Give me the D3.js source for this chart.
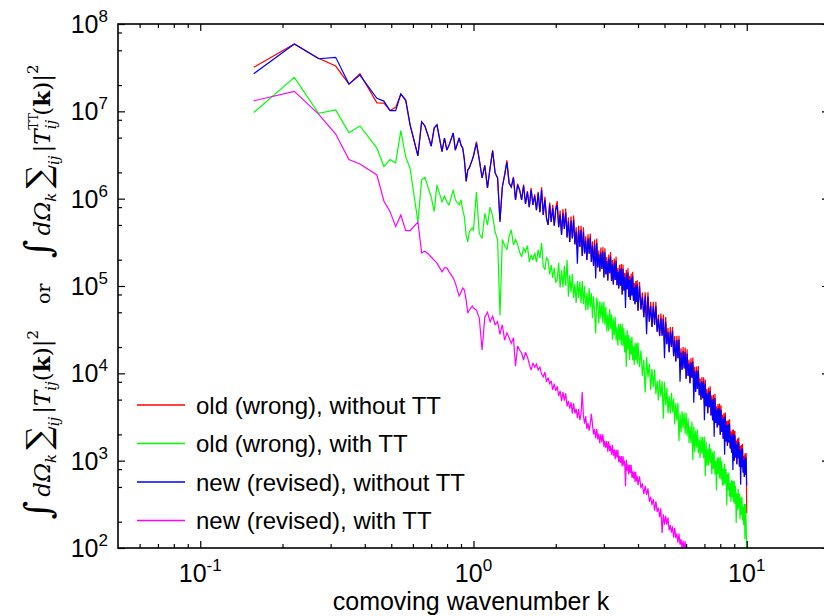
<!DOCTYPE html>
<html><head><meta charset="utf-8">
<script src="https://cdn.jsdelivr.net/npm/d3@7"></script>
<style>body{margin:0;background:#fff}svg{display:block}</style>
</head><body>
<svg id="chart" width="824" height="616"></svg>
<script>
// ---- data ----
const kLow = [0.157,0.221,0.271,0.313,0.350,0.384,0.443,0.470,0.495,0.519,0.542,0.565,0.586,0.626,0.646,0.664,0.683,0.700,0.718,0.735,0.767,0.783,0.799,0.814,0.843,0.858,0.886,0.900,0.913,0.926,0.940,0.953,0.965,0.990];
const kMid = [1,1.025,1.05,1.075,1.1,1.125,1.15,1.175,1.2,1.225,1.25,1.275,1.3,1.325,1.35,1.375,1.4,1.425,1.45,1.475,1.5,1.525,1.55,1.575,1.6,1.625,1.65,1.675,1.7,1.725,1.75,1.775,1.8,1.825,1.85,1.875,1.9,1.925,1.95,1.975,2];
const kUpper = [2.025,2.05,2.075,2.1,2.125,2.15,2.175,2.2,2.225,2.25,2.275,2.3,2.325,2.35,2.375,2.4,2.425,2.45,2.475,2.5,
 2.525,2.55,2.575,2.6,2.625,2.65,2.675,2.7,2.725,2.75,2.775,2.8,2.825,2.85,2.875,2.9,2.925,2.95,2.975,3,
 3.025,3.05,3.075,3.1,3.125,3.15,3.175,3.2,3.225,3.25,3.275,3.3,3.325,3.35,3.375,3.4,3.425,3.45,3.475,3.5,
 3.525,3.55,3.575,3.6,3.625,3.65,3.675,3.7,3.725,3.75,3.775,3.8,3.825,3.85,3.875,3.9,3.925,3.95,3.975,4];
const kTop = [4.05,4.1,4.15,4.2,4.25,4.3,4.35,4.4,4.45,4.5,4.55,4.6,4.65,4.7,4.75,4.8,4.85,4.9,4.95,5,
 5.05,5.1,5.15,5.2,5.25,5.3,5.35,5.4,5.45,5.5,5.55,5.6,5.65,5.7,5.75,5.8,5.85,5.9,5.95,6,
 6.05,6.1,6.15,6.2,6.25,6.3,6.35,6.4,6.45,6.5,6.55,6.6,6.65,6.7,6.75,6.8,6.85,6.9,6.95,7,
 7.05,7.1,7.15,7.2,7.25,7.3,7.35,7.4,7.45,7.5,7.55,7.6,7.65,7.7,7.75,7.8,7.85,7.9,7.95,8,
 8.05,8.1,8.15,8.2,8.25,8.3,8.35,8.4,8.45,8.5,8.55,8.6,8.65,8.7,8.75,8.8,8.85,8.9,8.95,9,
 9.05,9.1,9.15,9.2,9.25,9.3,9.35,9.4,9.45,9.5,9.55,9.6,9.65,9.7,9.75,9.8,9.85,9.9,9.95,10];

const oldWithoutTT = [
 3.2e7,5.9e7,4.05e7,3.3e7,2.05e7,2.7e7,1.25e7,1.24e7,1.02e7,1.11e7,1.58e7,1.32e7,7.0e6,3.1e6,7.6e6,6.8e6,5.2e6,4.0e6,6.45e6,7.0e6,3.45e6,4.95e6,3.6e6,4.1e6,5.65e6,3.6e6,4.95e6,4.1e6,3.8e6,2.8e6,1.6e6,2.13e6,2.25e6,2.8e6,
 3.1e6,4.5e6,2.8e6,1.73e6,2.4e6,1.33e6,2.25e6,3.6e6,1.97e6,1.73e6,5.6e5,1.36e6,1.87e6,2.75e6,1.51e6,1.36e6,1.78e6,9.7e5,1.48e6,1.26e6,9.7e5,1.45e6,8.7e5,1.22e6,8.0e5,1.32e6,8.5e5,1.12e6,7.4e5,1.2e6,7.0e5,1.35e6,6.5e5,1.05e6,6.0e5,5.0e5,9.0e5,5.4e5,8.5e5,4.9e5,7.9e5,
 9.4e5,4.7e5,7.3e5,3.85e5,7.6e5,4.5e5,7.7e5,3.6e5,6.1e5,3.2e5,
 6.25e5,3.5e5,6.4e5,3.0e5,4.7e5,2.7e5,4.9e5,2.8e5,4.9e5,2.2e5,
 4.7e5,2.36e5,3.7e5,1.98e5,3.9e5,2.34e5,4.0e5,1.88e5,3.25e5,1.7e5,
 3.4e5,1.68e5,3.5e5,1.63e5,2.55e5,1.47e5,2.75e5,1.57e5,2.8e5,1.25e5,
 2.7e5,1.36e5,2.15e5,1.16e5,2.3e5,1.4e5,2.45e5,1.14e5,1.98e5,1.04e5,
 2.07e5,1.17e5,2.18e5,1.02e5,1.62e5,9.35e4,1.75e5,1.01e5,1.79e5,8.0e4,
 1.76e5,8.9e4,1.41e5,8.15e4,1.52e5,9.2e4,1.6e5,7.5e4,1.31e5,6.9e4,
 1.39e5,7.8e4,1.46e5,6.8e4,1.08e5,6.2e4,1.14e5,6.6e4,1.16e5,5.2e4,
 1.11e5,5.4e4,8.4e4,4.4e4,8.5e4,4.27e4,8.5e4,3.9e4,6.6e4,3.4e4,
 6.6e4,3.6e4,6.6e4,3.0e4,4.7e4,2.67e4,4.85e4,2.7e4,4.7e4,2.26e4,
 4.4e4,2.15e4,3.3e4,1.75e4,3.4e4,2.0e4,3.4e4,1.57e4,2.67e4,1.37e4,
 2.7e4,1.49e4,2.7e4,1.22e4,1.94e4,1.1e4,2.0e4,1.14e4,1.98e4,8.7e3,
 1.88e4,9.3e3,1.44e4,7.7e3,1.5e4,8.9e3,1.52e4,7.0e3,1.19e4,6.1e3,
 1.2e4,6.6e3,1.21e4,5.6e3,8.7e3,5.0e3,9.1e3,5.2e3,9.0e3,4.37e3,
 8.5e3,4.2e3,6.6e3,3.5e3,6.9e3,4.1e3,7.1e3,3.3e3,5.6e3,2.9e3,
 5.7e3,2.84e3,5.85e3,2.7e3,4.2e3,2.4e3,4.45e3,2.55e3,4.5e3,1.98e3,
 4.3e3,2.13e3,3.35e3,1.78e3,3.5e3,1.77e3,3.57e3,1.66e3,2.85e3,1.48e3,
 2.9e3,1.62e3,2.97e3,1.38e3,2.16e3,1.23e3,2.26e3,1.18e3,2.27e3,1.0e3,
 2.18e3,1.09e3,1.7e3,9.1e2,1.79e3,1.07e3,1.84e3,8.6e2,1.48e3,8.05e2,
 1.51e3,8.4e2,1.56e3,7.3e2,1.14e3,6.5e2,1.21e3,6.9e2,1.22e3,2.5e2];

const oldWithTT = [
 9.7e6,2.45e7,9.5e6,1.04e7,5.7e6,6.8e6,3.8e6,2.33e6,2.8e6,2.58e6,6.0e6,3.0e6,2.23e6,5.4e5,1.64e6,1.76e6,1.33e6,1.05e6,7.1e5,1.43e6,9.2e5,1.07e6,9.2e5,8.5e5,1.26e6,9.7e5,8.5e5,9.7e5,7.4e5,6.2e5,3.8e5,3.2e5,4.15e5,4.6e5,
 4.4e5,1.19e6,4.0e5,3.5e5,6.8e5,5.0e5,8.0e5,6.3e5,4.15e5,3.4e5,4.6e4,3.4e5,2.9e5,2.6e5,3.7e5,4.4e5,2.95e5,3.4e5,3.0e5,2.45e5,2.15e5,2.7e5,2.45e5,2.9e5,1.88e5,2.26e5,1.98e5,2.4e5,1.88e5,2.6e5,2.1e5,3.1e5,1.69e5,1.53e5,2.1e5,1.98e5,1.37e5,1.74e5,1.24e5,1.61e5,1.11e5,
 1.16e5,1.85e5,9.6e4,1.51e5,9.7e4,1.7e5,1.01e5,2.0e5,7.55e4,1.33e5,
 8.5e4,1.37e5,7.3e4,1.05e5,6.4e4,1.14e5,7.3e4,1.12e5,6.4e4,1.14e5,
 6.2e4,1.0e5,5.25e4,8.3e4,5.3e4,9.4e4,5.7e4,8.3e4,4.27e4,7.6e4,
 4.9e4,2.86e4,7.35e4,6.1e4,3.76e4,6.7e4,4.27e4,6.5e4,3.74e4,6.6e4,
 3.6e4,5.8e4,3.02e4,4.75e4,3.05e4,5.4e4,3.23e4,4.75e4,2.42e4,4.27e4,
 2.74e4,4.43e4,2.37e4,3.4e4,2.09e4,3.7e4,2.38e4,3.67e4,2.11e4,3.73e4,
 2.05e4,3.31e4,1.73e4,2.74e4,1.19e4,3.13e4,1.88e4,2.77e4,1.42e4,2.52e4,
 1.63e4,2.63e4,1.41e4,2.04e4,1.25e4,2.22e4,1.43e4,2.21e4,1.27e4,2.25e4,
 1.18e4,1.83e4,9.3e3,1.43e4,6.05e3,1.54e4,9.0e3,1.29e4,6.45e3,1.12e4,
 7.0e3,1.11e4,5.8e3,8.2e3,4.9e3,8.5e3,5.4e3,8.15e3,3.03e3,8.0e3,
 4.3e3,6.8e3,3.5e3,5.45e3,3.45e3,6.0e3,3.56e3,5.15e3,2.6e3,4.54e3,
 2.88e3,4.6e3,1.68e3,3.45e3,2.1e3,3.67e3,2.34e3,3.56e3,2.02e3,3.54e3,
 1.92e3,3.08e3,1.59e3,2.48e3,1.59e3,2.81e3,1.01e3,2.47e3,1.25e3,2.2e3,
 1.41e3,2.28e3,1.22e3,1.75e3,1.07e3,1.89e3,1.21e3,1.87e3,1.07e3,1.88e3,
 6.65e2,1.66e3,8.7e2,1.37e3,8.8e2,1.56e3,9.4e2,1.38e3,7.0e2,1.25e3,
 8.0e2,1.3e3,6.95e2,1.0e3,4.56e2,1.09e3,7.0e2,1.09e3,6.25e2,1.11e3,
 6.1e2,9.85e2,5.15e2,8.2e2,5.2e2,9.2e2,5.45e2,8.0e2,3.07e2,7.1e2,
 4.55e2,7.3e2,3.87e2,5.53e2,3.38e2,5.97e2,3.81e2,5.83e2,3.33e2,5.89e2,
 3.2e2,5.15e2,1.94e2,4.22e2,2.7e2,4.75e2,2.85e2,4.19e2,2.13e2,3.76e2,
 2.4e2,3.86e2,2.06e2,2.96e2,1.82e2,3.21e2,1.27e2,3.18e2,1.82e2,7.3e1];

const newWithoutTT = [
 2.7e7,5.9e7,4.0e7,4.15e7,2.05e7,2.6e7,1.41e7,1.31e7,1.02e7,1.02e7,1.58e7,1.35e7,7.0e6,3.1e6,7.6e6,6.8e6,5.2e6,4.0e6,6.45e6,7.0e6,3.45e6,4.95e6,3.6e6,4.1e6,5.65e6,3.6e6,4.95e6,4.1e6,3.8e6,2.8e6,1.57e6,2.13e6,2.25e6,2.8e6,
 3.1e6,4.3e6,2.8e6,1.73e6,2.4e6,1.33e6,2.25e6,3.5e6,1.97e6,1.73e6,5.4e5,1.36e6,1.87e6,2.6e6,1.51e6,1.36e6,1.73e6,9.7e5,1.43e6,1.26e6,9.7e5,1.40e6,8.7e5,1.19e6,8.0e5,1.26e6,8.5e5,1.07e6,7.4e5,1.16e6,7.0e5,1.26e6,6.5e5,9.7e5,6.0e5,5.0e5,8.5e5,5.4e5,7.8e5,4.9e5,7.4e5,
 8.4e5,4.7e5,6.5e5,3.85e5,6.8e5,4.5e5,6.9e5,3.6e5,5.5e5,3.2e5,
 5.6e5,3.5e5,5.7e5,3.0e5,4.2e5,1.8e5,4.4e5,2.8e5,4.4e5,2.2e5,
 4.2e5,2.36e5,3.3e5,1.98e5,3.5e5,2.34e5,3.6e5,1.88e5,2.9e5,1.7e5,
 3.0e5,1.22e5,3.1e5,1.63e5,2.3e5,1.47e5,2.44e5,1.57e5,2.5e5,1.25e5,
 2.43e5,1.36e5,1.93e5,1.16e5,2.07e5,1.4e5,2.17e5,1.14e5,1.77e5,1.04e5,
 1.85e5,1.17e5,1.95e5,1.02e5,1.45e5,9.35e4,1.56e5,1.01e5,1.6e5,8.0e4,
 1.57e5,8.9e4,1.26e5,5.6e4,1.36e5,9.2e4,1.43e5,7.5e4,1.17e5,6.9e4,
 1.24e5,7.8e4,1.3e5,6.8e4,9.6e4,6.2e4,1.02e5,6.6e4,1.04e5,5.2e4,
 9.9e4,5.4e4,7.5e4,4.4e4,7.6e4,2.8e4,7.6e4,3.9e4,5.9e4,3.4e4,
 5.9e4,3.6e4,5.9e4,3.0e4,4.2e4,2.67e4,4.3e4,2.7e4,4.2e4,1.49e4,
 3.9e4,2.15e4,2.96e4,1.75e4,3.0e4,2.0e4,3.06e4,1.57e4,2.38e4,1.37e4,
 2.4e4,1.49e4,2.42e4,8.0e3,1.73e4,1.1e4,1.79e4,1.14e4,1.77e4,8.7e3,
 1.68e4,9.3e3,1.29e4,7.7e3,1.34e4,8.9e3,1.36e4,4.6e3,1.06e4,6.1e3,
 1.07e4,6.6e3,1.08e4,5.6e3,7.8e3,5.0e3,8.1e3,5.2e3,8.1e3,2.9e3,
 7.6e3,4.2e3,5.9e3,3.5e3,6.2e3,4.1e3,6.3e3,3.3e3,5.0e3,2.9e3,
 5.1e3,1.88e3,5.2e3,2.7e3,3.8e3,2.4e3,4.0e3,2.55e3,4.0e3,1.98e3,
 3.8e3,2.13e3,3.0e3,1.78e3,3.1e3,1.17e3,3.2e3,1.66e3,2.54e3,1.48e3,
 2.6e3,1.62e3,2.65e3,1.38e3,1.93e3,1.23e3,2.0e3,7.8e2,2.0e3,1.0e3,
 1.95e3,1.09e3,1.52e3,9.1e2,1.6e3,1.07e3,1.64e3,8.6e2,1.32e3,5.3e2,
 1.35e3,8.4e2,1.39e3,7.3e2,1.02e3,6.5e2,1.08e3,6.9e2,1.09e3,5.2e2];

const newWithTT = [
 1.32e7,1.69e7,9.3e6,5.5e6,2.8e6,2.5e6,1.87e6,9.4e5,7.1e5,4.8e5,6.5e5,4.3e5,4.3e5,5.4e5,2.4e5,2.5e5,2.33e5,2.15e5,1.98e5,1.83e5,1.45e5,1.61e5,1.61e5,1.45e5,1.24e5,1.08e5,7.7e4,8.5e4,9.5e4,9.0e4,6.9e4,4.9e4,5.3e4,5.9e4,
 5.6e4,5.3e4,4.3e4,1.85e4,4.4e4,5.0e4,3.9e4,4.5e4,3.6e4,3.9e4,2.8e4,3.6e4,2.4e4,2.9e4,2.55e4,2.2e4,2.55e4,1.21e4,2.05e4,1.85e4,1.71e4,1.42e4,1.75e4,1.54e4,1.28e4,1.09e4,1.31e4,1.18e4,1.28e4,1.09e4,1.18e4,9.8e3,9.1e3,1.03e4,8.0e3,8.9e3,7.6e3,8.2e3,6.45e3,7.6e3,6.3e3,
 7.1e3,5.5e3,6.3e3,4.8e3,6.1e3,4.86e3,5.9e3,4.18e3,4.83e3,3.94e3,
 4.67e3,3.48e3,4.53e3,3.47e3,3.93e3,3.08e3,3.9e3,2.92e3,3.38e3,6.1e3,
 3.3e3,2.65e3,3.23e3,2.31e3,2.69e3,2.21e3,2.64e3,3.44e3,2.6e3,2.0e3,
 2.29e3,1.81e3,2.31e3,1.75e3,2.04e3,1.58e3,2.02e3,1.63e3,2.0e3,1.44e3,
 1.69e3,1.4e3,1.68e3,1.27e3,1.67e3,1.29e3,1.48e3,1.17e3,1.51e3,1.14e3,
 1.34e3,1.04e3,1.34e3,1.08e3,1.33e3,9.6e2,1.13e3,9.4e2,1.13e3,8.6e2,
 1.13e3,8.75e2,1.0e3,5.1e2,1.02e3,7.7e2,9.0e2,6.95e2,8.95e2,7.25e2,
 8.9e2,6.4e2,7.55e2,6.25e2,7.5e2,5.7e2,7.45e2,5.8e2,6.6e2,5.25e2,
 6.6e2,4.85e2,5.5e2,4.14e2,5.15e2,4.05e2,4.82e2,3.38e2,3.86e2,3.12e2,
 3.64e2,2.68e2,3.43e2,2.59e2,2.9e2,2.25e2,2.84e2,1.49e2,2.43e2,1.85e2,
 2.33e2,1.85e2,2.23e2,1.59e2,1.83e2,1.5e2,1.77e2,1.32e2,1.7e2,1.3e2,
 1.47e2,1.15e2,1.46e2,1.09e2,1.26e2,9.6e1,1.22e2,9.8e1,1.19e2,8.5e1,
 9.8e1,8.1e1,9.6e1,7.2e1,9.4e1,7.2e1,8.2e1,6.4e1,8.1e1,6.1e1,
 7.1e1,5.5e1];

const legendLabels = ["old (wrong), without TT","old (wrong), with TT","new (revised), without TT","new (revised), with TT"];
const seriesColors = ["#ff0000","#00ff00","#0000ff","#ff00ff"];
const xMajorTicks = [0.1, 1, 10];
const xMajorExponents = ["-1","0","1"];
const yMajorTicks = [1e2,1e3,1e4,1e5,1e6,1e7,1e8];
const yMajorExponents = ["2","3","4","5","6","7","8"];
const xMinorTicks = [0.06,0.07,0.08,0.09,0.2,0.3,0.4,0.5,0.6,0.7,0.8,0.9,2,3,4,5,6,7,8,9];
const yMinorTicks = [2e2,5e2,8e2,2e3,5e3,8e3,2e4,5e4,8e4,2e5,5e5,8e5,2e6,5e6,8e6,2e7,5e7,8e7];
const xTitle = "comoving wavenumber k";

// ---- drawing ----
const svg = d3.select("#chart");
const L = 118, T = 24, R = 829, B = 548;
const x = d3.scaleLog().domain([0.05, 20]).range([L, R]);
const y = d3.scaleLog().domain([1e2, 1e8]).range([B, T]);

svg.append("rect").attr("width",824).attr("height",616).attr("fill","#fff");
svg.append("defs").append("clipPath").attr("id","plotclip")
  .append("rect").attr("x",L).attr("y",T).attr("width",R-L).attr("height",B-T);

const wavenumber = kLow.concat(kMid, kUpper, kTop);
const series = [oldWithoutTT, oldWithTT, newWithoutTT, newWithTT];
const line = d3.line().defined(d => d.v != null).x(d => x(d.k)).y(d => y(d.v));

const plot = svg.append("g").attr("clip-path","url(#plotclip)");
series.forEach((vals, i) => {
  const pts = wavenumber.map((k, j) => ({k: k, v: vals[j]}));
  plot.append("path").datum(pts).attr("d", line)
    .attr("fill","none").attr("stroke", seriesColors[i])
    .attr("stroke-width",1.2).attr("stroke-linejoin","miter").attr("stroke-miterlimit",3);
});

function styleAxis(g){
  g.select(".domain").remove();
  g.selectAll(".tick line").attr("stroke","#000").attr("stroke-width",1.2);
  g.selectAll(".tick text").remove();
}
const majorLen = 7, minorLen = 4;
svg.append("g").attr("transform",`translate(0,${B})`).call(d3.axisBottom(x).tickValues(xMajorTicks).tickSize(-majorLen).tickSizeOuter(0)).call(styleAxis);
svg.append("g").attr("transform",`translate(0,${B})`).call(d3.axisBottom(x).tickValues(xMinorTicks).tickSize(-minorLen).tickSizeOuter(0)).call(styleAxis);
svg.append("g").attr("transform",`translate(0,${T})`).call(d3.axisTop(x).tickValues(xMajorTicks).tickSize(-majorLen).tickSizeOuter(0)).call(styleAxis);
svg.append("g").attr("transform",`translate(0,${T})`).call(d3.axisTop(x).tickValues(xMinorTicks).tickSize(-minorLen).tickSizeOuter(0)).call(styleAxis);
svg.append("g").attr("transform",`translate(${L},0)`).call(d3.axisLeft(y).tickValues(yMajorTicks).tickSize(-majorLen).tickSizeOuter(0)).call(styleAxis);
svg.append("g").attr("transform",`translate(${L},0)`).call(d3.axisLeft(y).tickValues(yMinorTicks).tickSize(-minorLen).tickSizeOuter(0)).call(styleAxis);
svg.append("g").attr("transform",`translate(${R},0)`).call(d3.axisRight(y).tickValues(yMajorTicks).tickSize(-majorLen).tickSizeOuter(0)).call(styleAxis);
svg.append("g").attr("transform",`translate(${R},0)`).call(d3.axisRight(y).tickValues(yMinorTicks).tickSize(-minorLen).tickSizeOuter(0)).call(styleAxis);

svg.append("rect").attr("x",L).attr("y",T).attr("width",R-L).attr("height",B-T)
  .attr("fill","none").attr("stroke","#000").attr("stroke-width",1.6);

const sans = "'Liberation Sans', Arial, Helvetica, sans-serif";
xMajorTicks.forEach((v,i) => {
  const t = svg.append("text").attr("x", x(v)).attr("y", 582)
    .attr("text-anchor","middle").attr("font-family",sans).attr("font-size",25).attr("fill","#000");
  t.append("tspan").text("10");
  t.append("tspan").attr("dy",-11).attr("font-size",17).text(xMajorExponents[i]);
});
yMajorTicks.forEach((v,i) => {
  const t = svg.append("text").attr("x", 108).attr("y", y(v) + 9)
    .attr("text-anchor","end").attr("font-family",sans).attr("font-size",25).attr("fill","#000");
  t.append("tspan").text("10");
  t.append("tspan").attr("dy",-11).attr("font-size",17).text(yMajorExponents[i]);
});
svg.append("text").attr("x", 471).attr("y", 610).attr("text-anchor","middle")
  .attr("font-family",sans).attr("font-size",25).attr("fill","#000").text(xTitle);

// y title (math)
const serif = "'DejaVu Serif', 'Liberation Serif', serif";
const yt = svg.append("text").attr("transform","translate(50,292) rotate(-90)")
  .attr("text-anchor","middle").attr("font-family",serif).attr("font-size",23).attr("fill","#000");
function part(txt, opts){
  const s = yt.append("tspan").text(txt);
  if (opts){ for (const k in opts) s.attr(k, opts[k]); }
  return s;
}
function termBlock(tt){
  part("\u222B", {"font-size":36});
  part("d\u03A9", {"font-style":"italic", "dx":4});
  part("k", {"font-style":"italic","font-size":15,"dy":6});
  part("\u2211", {"font-size":33,"dy":-6,"dx":4});
  part("ij", {"font-style":"italic","font-size":15,"dy":9});
  part("|", {"dy":-9,"dx":3});
  part("T", {"font-style":"italic"});
  if (tt){
    part("TT", {"font-size":12,"dy":-12});
    part("ij", {"font-style":"italic","font-size":15,"dy":18,"dx":-16});
    part("(", {"dy":-6,"dx":4});
  } else {
    part("ij", {"font-style":"italic","font-size":15,"dy":6});
    part("(", {"dy":-6});
  }
  part("k", {"font-weight":"bold"});
  part(")|");
  part("2", {"font-size":15,"dy":-12});
}
termBlock(false);
part("or", {"dy":12,"dx":26,"font-size":19});
part(" ", {"dx":18});
termBlock(true);

// legend
const legendY = [405, 443.5, 482, 520.5];
legendLabels.forEach((lab,i) => {
  svg.append("line").attr("x1",137).attr("x2",185).attr("y1",legendY[i]).attr("y2",legendY[i])
    .attr("stroke", seriesColors[i]).attr("stroke-width",1.3);
  svg.append("text").attr("x",196).attr("y",legendY[i]).attr("dy","0.36em")
    .attr("font-family",sans).attr("font-size",24).attr("fill","#000").text(lab);
});
</script>
</body></html>
